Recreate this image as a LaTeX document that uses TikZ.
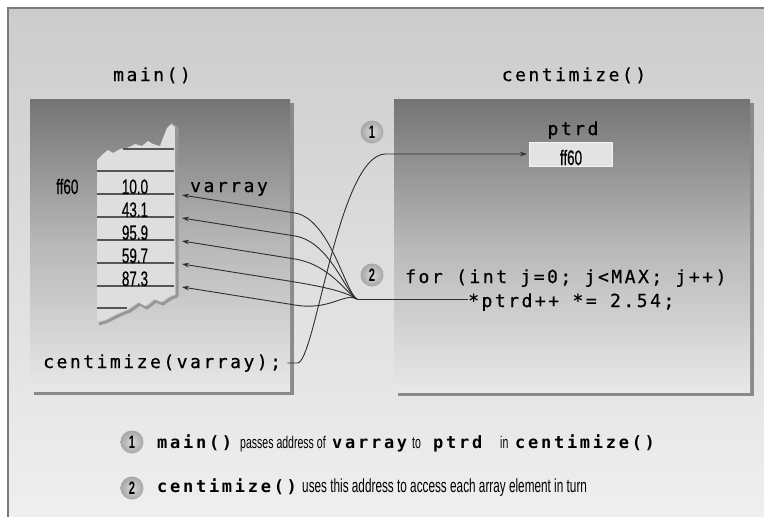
\documentclass[tikz,border=0pt]{standalone}
\usepackage{fontspec}
\setmainfont{Liberation Sans}
\newfontfamily\codefont[LetterSpace=14,FakeBold=0.6]{DejaVu Sans Mono}
\newfontfamily\legfont[LetterSpace=16]{DejaVu Sans Mono}
\newfontfamily\condfont[FakeStretch=0.62]{Liberation Sans}
\newfontfamily\valfont[FakeStretch=0.64,FakeBold=0.5]{Liberation Sans}
\usetikzlibrary{arrows.meta,shadings,shadows}
\definecolor{bgtop}{HTML}{CCCCCC}
\definecolor{bgbot}{HTML}{EFEFEF}
\definecolor{framec}{HTML}{7A7A7A}
\definecolor{boxtop}{HTML}{747474}
\definecolor{boxmid}{HTML}{B8B8B8}
\definecolor{boxbot}{HTML}{E8E8E8}
\definecolor{shadowc}{HTML}{8A8A8A}
\definecolor{stripc}{HTML}{DEDEDE}
\definecolor{stripsh}{HTML}{979797}
\definecolor{rowc}{HTML}{555555}
\definecolor{linec}{HTML}{2E2E2E}
\definecolor{circin}{HTML}{DADADA}
\definecolor{circout}{HTML}{A6A6A6}
\definecolor{pboxfill}{HTML}{E3E3E3}
\definecolor{pboxdraw}{HTML}{F3F3F3}
\tikzset{
  code/.style={font=\codefont\fontsize{18}{18}\selectfont, inner sep=0pt, text=black},
  legcode/.style={font=\legfont\bfseries\fontsize{17}{17}\selectfont, inner sep=0pt, text=black, anchor=base west},
  cond/.style={font=\condfont\fontsize{19}{19}\selectfont, inner sep=0pt, text=black, anchor=base west},
  condsmall/.style={cond, font=\condfont\fontsize{17}{17}\selectfont},
  val/.style={font=\valfont\fontsize{21}{21}\selectfont, inner sep=0pt, text=black, anchor=base},
  conn/.style={draw=linec, line width=0.9pt},
  tipend/.style={-{Stealth[length=7pt,width=4.5pt]}},
  numcirc/.style={circle, minimum size=23pt, inner sep=0pt, inner color=circin, outer color=circout,
     font=\condfont\bfseries\fontsize{18}{18}\selectfont},
  panel/.style={rectangle, inner sep=0pt, outer sep=0pt, top color=boxtop, bottom color=boxbot, middle color=boxmid,
     drop shadow={shadow xshift=4pt, shadow yshift=-4pt, fill=shadowc, opacity=1}},
  rowline/.style={draw=rowc, line width=1.3pt},
}
\begin{document}
\begin{tikzpicture}[x=1pt,y=-1pt]
\useasboundingbox (0,0) rectangle (764,517);
\fill[white] (0,0) rectangle (764,517);
\shade[top color=bgtop,bottom color=bgbot] (8,8) rectangle (764,517);
\draw[framec, line width=1.5pt] (8,517) -- (8,8) -- (764,8);

% titles
\node[code, anchor=base west] (maintitle) at (113,81) {main()};
\node[code, anchor=base] (centitle) at (574,81) {centimize()};

% panels
\node[panel, minimum width=260pt, minimum height=292pt] (mainbox) at (160,245) {};
\node[panel, minimum width=356pt, minimum height=293pt] (cenbox) at (572,245.5) {};

% torn array strip
\draw[stripsh, line width=3pt, line join=round]
  (171,124) -- (177,128) -- (177,296) -- (170,299) -- (163,304) -- (156,301) -- (147,308) -- (140,304)
  -- (130,311) -- (120,315) -- (106,322) -- (99,324);
\fill[stripc] (97,160) -- (103,154) -- (108,150) -- (113,153) -- (120,149) -- (127,148) -- (135,144)
  -- (142,146) -- (148,141) -- (153,144) -- (160,146) -- (163,138) -- (167,128) -- (171,124) -- (175,127)
  -- (175,294) -- (168,297) -- (161,302) -- (154,299) -- (145,306) -- (138,302) -- (128,309)
  -- (118,313) -- (104,320) -- (97,321) -- cycle;
\draw[rowline] (123,149) -- (174,149);
\foreach \y in {171,194,217,240,263,286} { \draw[rowline] (97,\y) -- (174,\y); }
\draw[rowline] (97,308) -- (127,308);

\node[val] (v1) at (135,194) {10.0};
\node[val] (v2) at (135,217) {43.1};
\node[val] (v3) at (135,240) {95.9};
\node[val] (v4) at (135,263) {59.7};
\node[val] (v5) at (135,286) {87.3};
\node[val, anchor=base west] (addr) at (56,194) {ff60};
\node[code, anchor=base west] (varr) at (190,192) {varray};
\node[code, anchor=base west] (call) at (43,368) {centimize(varray);};

% centimize panel contents
\node[code, anchor=base] (ptrdlab) at (573,135) {ptrd};
\node[rectangle, draw=pboxdraw, fill=pboxfill, line width=1pt, minimum width=83pt, minimum height=24pt, inner sep=0pt] (pbox) at (571,154) {};
\node[val] (pval) at (571,165) {ff60};
\node[code, anchor=base west] (forline) at (405,283) {for (int j=0; j<MAX; j++)};
\node[code, anchor=base west] (bodyline) at (468,307) {*ptrd++ *= 2.54;};

\node[numcirc] (c1) at (372,132) {1};
\node[numcirc] (c2) at (372,275) {2};

% connectors
\coordinate (F) at (357,299);
\foreach \i/\y in {1/195,2/218,3/241,4/264,5/287} {
  \coordinate (t\i) at (182,\y);
  \draw[conn,tipend] (F) .. controls (345,292) and (330,{\y+24}) .. (295,{\y+18}) -- (t\i);
}
\draw[conn] (F) -- (F -| bodyline.west);
\draw[conn,tipend] ([xshift=6pt]call.east) -- ++(10,0) .. controls +(18,0) and (338,156) .. (385,154) -- ([xshift=-2pt]pbox.west);

% legend
\node[numcirc] (l1) at (132,442) {1};
\node[numcirc] (l2) at (132,488) {2};
\node[legcode] (g1) at (157,448) {main()};
\node[condsmall] (g2) at (240,448) {passes address of};
\node[legcode] (g3) at (332,448) {varray};
\node[condsmall] (g4) at (412,448) {to};
\node[legcode] (g5) at (433,448) {ptrd};
\node[condsmall] (g6) at (500,448) {in};
\node[legcode] (g7) at (515,448) {centimize()};
\node[legcode] (h1) at (157,492) {centimize()};
\node[cond] (h2) at (302,492) {uses this address to access each array element in turn};
\end{tikzpicture}
\end{document}
